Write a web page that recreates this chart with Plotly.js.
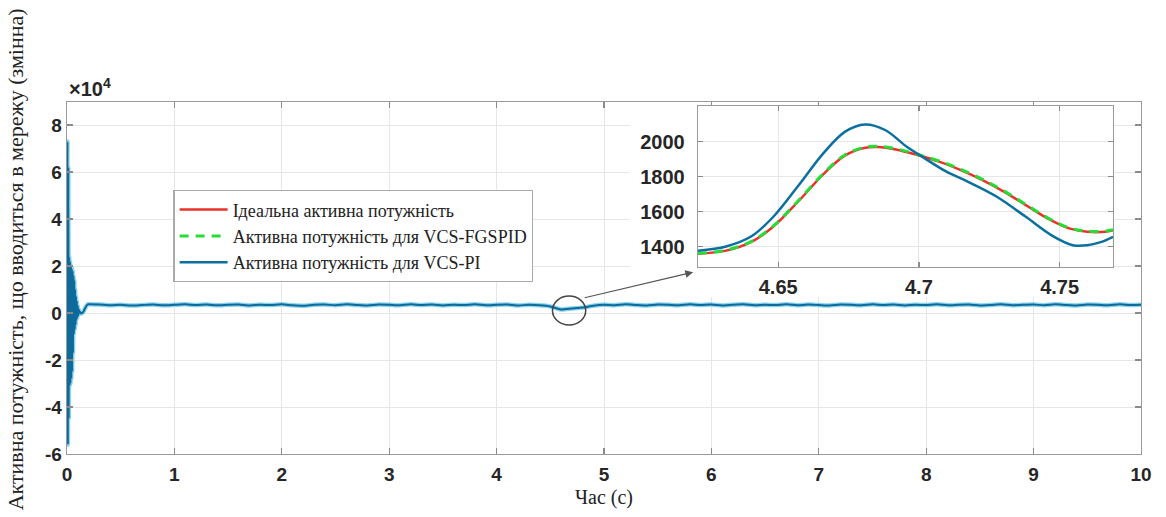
<!DOCTYPE html>
<html>
<head>
<meta charset="utf-8">
<script src="https://cdn.plot.ly/plotly-3.0.1.min.js"></script>
<style>html,body{margin:0;padding:0;background:#fff;}#chart{width:1166px;height:517px;}</style>
</head>
<body>
<div id="chart"></div>
<script>
// ---- Data ----
// start-up transient of the VCS-PI active power (time s, power W)
const tTransient = [0, 0.004, 0.008, 0.012, 0.016, 0.020, 0.024, 0.028, 0.032, 0.036, 0.040, 0.044, 0.048, 0.052, 0.056, 0.060, 0.064, 0.068, 0.072, 0.076, 0.080, 0.084, 0.088, 0.092, 0.096, 0.100, 0.105, 0.110, 0.115, 0.120, 0.130, 0.140, 0.150, 0.160, 0.170, 0.180, 0.190, 0.200];
const pTransient = [0, 73000, -56000, 62000, -45000, 24000, -31000, 22000, -30000, 20000, -28000, 19000, -25000, 18000, -17000, 16000, -9000, 14000, -7000, 10000, -5000, 7000, -3000, 5000, -2000, 3000, -1000, 1500, 0, 500, -200, 0, 400, 1200, 2200, 3000, 3500, 3700];
// steady-state VCS-PI active power
const tSteady = [0.3, 0.4, 0.5, 0.6, 0.7, 0.8, 0.9, 1.0, 1.1, 1.2, 1.3, 1.4, 1.5, 1.6, 1.7, 1.8, 1.9, 2.0, 2.1, 2.2, 2.3, 2.4, 2.5, 2.6, 2.7, 2.8, 2.9, 3.0, 3.1, 3.2, 3.3, 3.4, 3.5, 3.6, 3.7, 3.8, 3.9, 4.0, 4.1, 4.2, 4.3, 4.4, 4.5, 4.6, 4.7, 4.8, 4.9, 5.0, 5.1, 5.2, 5.3, 5.4, 5.5, 5.6, 5.7, 5.8, 5.9, 6.0, 6.1, 6.2, 6.3, 6.4, 6.5, 6.6, 6.7, 6.8, 6.9, 7.0, 7.1, 7.2, 7.3, 7.4, 7.5, 7.6, 7.7, 7.8, 7.9, 8.0, 8.1, 8.2, 8.3, 8.4, 8.5, 8.6, 8.7, 8.8, 8.9, 9.0, 9.1, 9.2, 9.3, 9.4, 9.5, 9.6, 9.7, 9.8, 9.9, 10.0];
const pSteady = [3600, 3300, 3500, 3200, 3400, 3600, 3300, 3500, 3700, 3400, 3600, 3300, 3500, 3600, 3200, 3500, 3400, 3700, 3300, 3100, 3500, 3600, 3300, 3700, 3400, 3200, 3600, 3500, 3300, 3700, 3400, 3600, 3200, 3500, 3400, 3700, 3300, 3500, 3600, 3200, 3500, 3300, 2800, 1500, 1900, 2300, 3100, 3500, 3300, 3700, 3400, 3200, 3600, 3500, 3300, 3700, 3400, 3600, 3200, 3500, 3700, 3300, 3500, 3400, 3700, 3300, 3600, 3400, 3200, 3600, 3500, 3300, 3700, 3400, 3600, 3200, 3500, 3400, 3700, 3300, 3500, 3600, 3200, 3400, 3700, 3300, 3500, 3600, 3300, 3700, 3400, 3200, 3600, 3500, 3300, 3700, 3400, 3500];

// zoomed window around t = 4.7 s
const tIdeal = [4.6215, 4.6315, 4.6405, 4.6482, 4.6572, 4.6661, 4.6738, 4.6809, 4.6854, 4.6918, 4.6995, 4.7072, 4.7149, 4.7226, 4.7303, 4.7380, 4.7457, 4.7534, 4.7598, 4.7662, 4.7690];
const pIdeal = [1360, 1378, 1428, 1514, 1660, 1815, 1922, 1966, 1970, 1956, 1924, 1886, 1838, 1781, 1714, 1638, 1562, 1505, 1486, 1486, 1495];
const tFGSPID = [4.6215, 4.6315, 4.6405, 4.6482, 4.6572, 4.6661, 4.6738, 4.6809, 4.6854, 4.6918, 4.6995, 4.7072, 4.7149, 4.7226, 4.7303, 4.7380, 4.7457, 4.7534, 4.7598, 4.7662, 4.7690];
const pFGSPID = [1363, 1381, 1431, 1518, 1664, 1819, 1926, 1970, 1974, 1960, 1928, 1890, 1842, 1785, 1718, 1642, 1566, 1508, 1489, 1489, 1497];
const tPI = [4.6215, 4.6315, 4.6405, 4.6482, 4.6572, 4.6661, 4.6738, 4.6809, 4.6880, 4.6957, 4.7021, 4.7098, 4.7175, 4.7277, 4.7380, 4.7470, 4.7547, 4.7598, 4.7649, 4.7690];
const pPI = [1378, 1402, 1460, 1570, 1750, 1935, 2058, 2099, 2067, 1971, 1905, 1829, 1771, 1686, 1571, 1467, 1409, 1409, 1428, 1457];

const seriesNames = ['Ідеальна активна потужність', 'Активна потужність для VCS-FGSPID', 'Активна потужність для VCS-PI'];
const mainXTicks = [0, 1, 2, 3, 4, 5, 6, 7, 8, 9, 10];
const mainYTickVals = [-60000, -40000, -20000, 0, 20000, 40000, 60000, 80000];
const mainYTickText = ['-6', '-4', '-2', '0', '2', '4', '6', '8'];
const insetXTicks = [4.65, 4.7, 4.75];
const insetXTickText = ['4.65', '4.7', '4.75'];
const insetYTicks = [1400, 1600, 1800, 2000];

// ---- Build ----
const tMain = tTransient.concat(tSteady);
const pMain = pTransient.concat(pSteady);

const sans = 'Liberation Sans, Arial, sans-serif';
const tickFont = {family: sans, size: 19, color: '#262626', weight: 'bold'};
const insetTickFont = {family: sans, size: 20, color: '#262626', weight: 'bold'};
const serif = 'Liberation Serif, DejaVu Serif, serif';

const traces = [
  {x: tMain, y: pMain, xaxis: 'x', yaxis: 'y', mode: 'lines', line: {color: '#62c4ea', width: 4.5, shape: 'spline', smoothing: 0.6}, opacity: 0.75, showlegend: false, hoverinfo: 'skip'},
  {x: tMain, y: pMain, xaxis: 'x', yaxis: 'y', mode: 'lines', line: {color: '#0d6a9a', width: 2, shape: 'spline', smoothing: 0.6}, showlegend: false, name: seriesNames[2]},
  {x: [], y: [], xaxis: 'x2', yaxis: 'y2', mode: 'lines', showlegend: false, hoverinfo: 'skip'},
  {x: tIdeal, y: pIdeal, xaxis: 'x3', yaxis: 'y3', mode: 'lines', name: seriesNames[0], line: {color: '#e8322a', width: 2.5, shape: 'spline'}},
  {x: tFGSPID, y: pFGSPID, xaxis: 'x3', yaxis: 'y3', mode: 'lines', name: seriesNames[1], line: {color: '#26dd35', width: 3, dash: '9px,7px', shape: 'spline'}},
  {x: tPI, y: pPI, xaxis: 'x3', yaxis: 'y3', mode: 'lines', name: seriesNames[2], line: {color: '#0b6fa0', width: 2.5, shape: 'spline'}}
];

const axisCommon = {showline: true, linecolor: '#9a9a9a', linewidth: 1.3, mirror: 'ticks', ticks: 'inside', ticklen: 6, tickcolor: '#8a8a8a', tickwidth: 1.3, gridcolor: '#e6e6e6', gridwidth: 1, zeroline: false, tickfont: tickFont};

const layout = {
  width: 1166, height: 517,
  paper_bgcolor: '#ffffff', plot_bgcolor: '#ffffff',
  margin: {l: 67, r: 25, t: 102, b: 63},
  showlegend: true,
  legend: {x: 0.099, y: 0.75, xanchor: 'left', yanchor: 'top', bgcolor: '#ffffff', bordercolor: '#aaaaaa', borderwidth: 1.3,
           font: {family: serif, size: 18, color: '#222'}, tracegroupgap: 0, itemwidth: 48},
  xaxis: Object.assign({}, axisCommon, {domain: [0, 1], range: [0, 10], tickvals: mainXTicks, anchor: 'y', ticklabelstandoff: 3,
           title: {text: 'Час (с)', font: {family: serif, size: 20, color: '#222'}, standoff: 6}}),
  yaxis: Object.assign({}, axisCommon, {domain: [0, 1], range: [-60000, 89800], tickvals: mainYTickVals, ticktext: mainYTickText, anchor: 'x'}),
  xaxis2: {domain: [0.524, 0.975], anchor: 'y2', visible: false, range: [0, 1], fixedrange: true},
  yaxis2: {domain: [0.446, 0.99], anchor: 'x2', visible: false, range: [0, 1], fixedrange: true},
  xaxis3: Object.assign({}, axisCommon, {domain: [0.5875, 0.974], anchor: 'y3', range: [4.6215, 4.769], tickvals: insetXTicks, ticktext: insetXTickText, ticklen: 5, ticklabelstandoff: 2, tickfont: insetTickFont}),
  yaxis3: Object.assign({}, axisCommon, {domain: [0.531, 0.9886], anchor: 'x3', range: [1284, 2204], tickvals: insetYTicks, ticklen: 5, ticklabelstandoff: 8, tickfont: insetTickFont}),
  shapes: [
    {type: 'circle', xref: 'x', yref: 'y', x0: 4.52, x1: 4.83, y0: -5100, y1: 7200, line: {color: '#444', width: 1.5}}
  ],
  annotations: [
    {xref: 'paper', yref: 'paper', x: -0.0484, y: 0.553, xanchor: 'center', yanchor: 'middle', textangle: -90, showarrow: false,
     text: 'Активна потужність, що вводиться в мережу (змінна)', font: {family: serif, size: 22, color: '#222'}},
    {xref: 'paper', yref: 'paper', x: 0, y: 1, xanchor: 'left', yanchor: 'bottom', yshift: 0, showarrow: false,
     text: '×10<sup>4</sup>', font: {family: sans, size: 20, color: '#262626', weight: 'bold'}},
    {xref: 'x', yref: 'y', x: 5.83, y: 17400, ax: -110, ay: 26, showarrow: true, arrowhead: 2, arrowsize: 1.3, arrowwidth: 1.2, arrowcolor: '#555', text: ''}
  ]
};

Plotly.newPlot('chart', traces, layout, {displayModeBar: false, staticPlot: true});
</script>
</body>
</html>
